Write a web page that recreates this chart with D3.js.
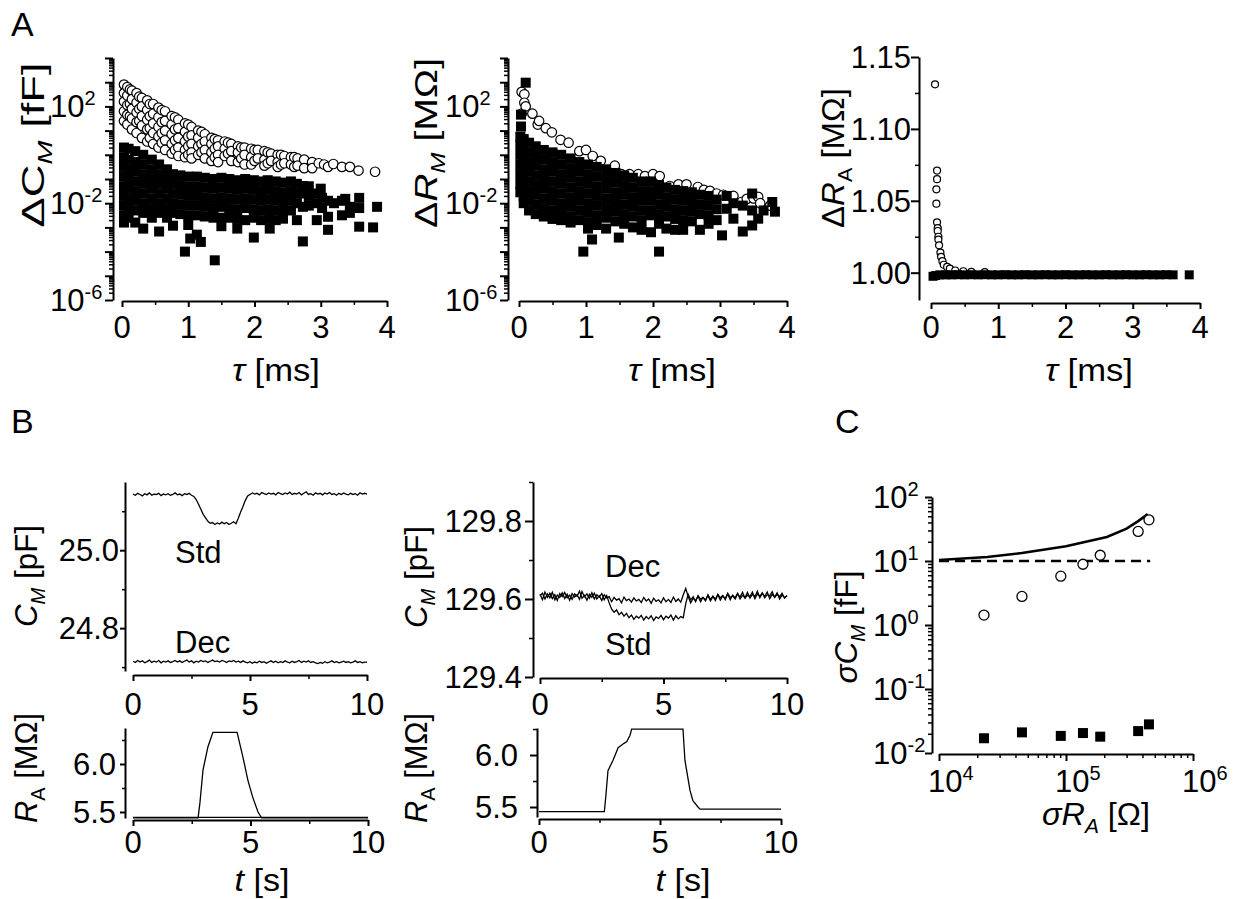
<!DOCTYPE html>
<html>
<head>
<meta charset="utf-8">
<style>
body { margin: 0; background: #fff; }
svg text { font-family: "Liberation Sans", Arial, sans-serif; fill: #000; }
.axis path, .axis line { stroke: #000; stroke-width: 2; }
.axis .minor line { stroke-width: 1.5; }
.trace { fill: none; stroke: #000; stroke-width: 1.3; }
</style>
</head>
<body>
<svg width="1245" height="899"></svg>
<script src="https://cdn.jsdelivr.net/npm/d3@7"></script>
<script>

// ---------- data ----------
// A: tau [ms] with log10 of the deviation, grouped by tau column
var cmOpen = [
  [0.03, [2.9, 2.55, 2.2, 1.8, 1.4]], [0.08, [2.8, 2.45, 2.05, 1.65, 1.25]],
  [0.12, [2.7, 2.1, 1.6]], [0.15, [2.65, 2.3, 1.9, 1.5, 1.05]],
  [0.22, [2.55, 2.15, 1.75, 1.35, 0.9]], [0.26, [2.4, 1.9, 1.4]],
  [0.3, [2.35, 2.0, 1.6, 1.2, 0.7]], [0.38, [2.25, 1.85, 1.45, 1.05, 0.55]],
  [0.42, [2.1, 1.6, 1.1, 0.7]], [0.47, [2.1, 1.7, 1.3, 0.9, 0.45]],
  [0.55, [1.95, 1.55, 1.15, 0.75, 0.3]], [0.6, [1.85, 1.35, 0.9, 0.5]],
  [0.65, [1.8, 1.4, 1.0, 0.6, 0.2]], [0.75, [1.6, 1.25, 0.85, 0.45, 0.05]],
  [0.8, [1.55, 1.05, 0.6, 0.2]], [0.85, [1.45, 1.1, 0.7, 0.3, -0.05]],
  [0.95, [1.3, 0.95, 0.55, 0.2, -0.1]], [1.0, [1.25, 0.75, 0.35, 0.0]],
  [1.05, [1.15, 0.8, 0.45, 0.1, -0.15]], [1.15, [1.0, 0.7, 0.35, 0.0]],
  [1.2, [0.95, 0.45, 0.1]], [1.25, [0.85, 0.55, 0.2, -0.15]],
  [1.35, [0.7, 0.45, 0.1, -0.25]], [1.4, [0.65, 0.25, -0.1]],
  [1.45, [0.6, 0.35, 0.0, -0.3]], [1.55, [0.55, 0.25, -0.05]],
  [1.6, [0.5, 0.05]], [1.65, [0.45, 0.15, -0.25]], [1.75, [0.35, 0.1, -0.3]],
  [1.8, [0.3, -0.15]], [1.85, [0.3, 0.0, -0.4]], [1.95, [0.25, -0.1, -0.4]],
  [2.0, [0.2, -0.25]], [2.05, [0.2, -0.15]], [2.15, [0.15, -0.2, -0.45]],
  [2.2, [0.1, -0.35]], [2.25, [0.05, -0.25]], [2.35, [0.0, -0.3, -0.5]],
  [2.4, [0.0, -0.4]], [2.45, [-0.05, -0.35]], [2.55, [-0.1, -0.4]],
  [2.6, [-0.1, -0.5]], [2.65, [-0.15, -0.45]], [2.75, [-0.2, -0.55]],
  [2.87, [-0.3, -0.55]], [2.97, [-0.35]], [3.05, [-0.4]],
  [3.11, [-0.5]], [3.19, [-0.38]], [3.32, [-0.5]], [3.44, [-0.5]],
  [3.57, [-0.65]], [3.82, [-0.7]]
];
var cmFilled = [
  [0.03, [0.3, -0.1, -0.5, -0.9, -1.3, -1.7, -2.1, -2.5, -2.8]],
  [0.1, [0.25, -0.2, -0.6, -1.0, -1.4, -1.8, -2.2, -2.6]],
  [0.2, [0.15, -0.3, -0.7, -1.1, -1.5, -1.9, -2.3, -2.8]],
  [0.32, [0.0, -0.4, -0.8, -1.2, -1.6, -2.0, -2.4, -3.05]],
  [0.45, [-0.2, -0.6, -1.0, -1.4, -1.8, -2.2, -2.6]],
  [0.56, [-0.4, -0.8, -1.2, -1.6, -2.0, -2.4, -3.17]],
  [0.68, [-0.6, -1.0, -1.4, -1.8, -2.2, -2.6]],
  [0.77, [-0.8, -1.2, -1.6, -2.0, -2.4, -2.93]],
  [0.88, [-0.85, -1.25, -1.65, -2.05, -2.45]],
  [0.95, [-4.0]], [1.0, [-0.9, -1.3, -1.7, -2.1, -2.5, -2.9]],
  [1.03, [-3.46]], [1.13, [-0.9, -1.3, -1.7, -2.1, -2.5, -3.3]],
  [1.19, [-3.6]], [1.25, [-0.95, -1.35, -1.75, -2.15, -2.55]],
  [1.4, [-4.36]], [1.38, [-1.0, -1.4, -1.8, -2.2, -2.6]],
  [1.5, [-0.95, -1.35, -1.75, -2.15, -2.6, -2.95]],
  [1.62, [-1.0, -1.4, -1.8, -2.2, -2.6]],
  [1.74, [-1.05, -1.45, -1.85, -2.25, -2.65, -3.05]],
  [1.86, [-1.0, -1.4, -1.8, -2.2, -2.7]],
  [1.99, [-1.05, -1.45, -1.85, -2.25, -2.6, -3.42]],
  [2.1, [-1.1, -1.5, -1.9, -2.3, -2.7]],
  [2.2, [-1.05, -1.45, -1.85, -2.25]], [2.23, [-2.65, -3.05]],
  [2.32, [-1.1, -1.5, -1.9, -2.3, -2.7]],
  [2.43, [-1.15, -1.55, -1.95, -2.35, -2.64]],
  [2.55, [-1.1, -1.5, -1.9, -2.3]], [2.64, [-1.2, -1.6, -2.0, -2.7]],
  [2.73, [-1.29, -1.6, -2.15, -3.58]], [2.82, [-1.3, -1.7, -2.1]],
  [2.94, [-1.6, -2.0, -2.7]], [3.0, [-1.4]], [3.02, [-1.78, -2.2]],
  [3.11, [-1.9, -2.56, -3.1]], [3.2, [-2.0]], [3.32, [-1.9, -2.5]],
  [3.37, [-1.82]], [3.44, [-2.15, -2.4]], [3.58, [-1.78, -2.2, -2.97]],
  [3.79, [-3.0]], [3.85, [-2.15]]
];
var rmOpen = [
  [0.04, [2.6, 1.7]], [0.08, [2.5, 2.15]], [0.1, [2.0]], [0.2, [1.7]],
  [0.28, [1.25]], [0.3, [1.4]], [0.4, [1.1]], [0.49, [0.93]], [0.62, [0.62]],
  [0.74, [0.5]], [0.9, [0.15]], [1.0, [0.2]], [1.1, [-0.05]], [1.22, [-0.25]],
  [1.43, [-0.45]], [1.53, [-0.8]], [1.65, [-0.8]], [1.78, [-0.8]], [1.88, [-0.88]],
  [2.0, [-0.8]], [2.1, [-0.88]], [2.25, [-1.29]], [2.38, [-1.22]], [2.5, [-1.22]],
  [2.67, [-1.33]], [2.76, [-1.45]], [2.85, [-1.49]], [2.95, [-1.6]], [3.05, [-1.65]],
  [3.2, [-1.7]], [3.32, [-1.95]], [3.4, [-1.82]], [3.5, [-1.8]], [3.57, [-1.74]],
  [3.6, [-2.0]], [3.75, [-2.1]]
];
var rmFilled = [
  [0.1, [2.98]], [0.03, [1.66, 1.17]],
  [0.02, [0.75, 0.4, 0.0, -0.4, -0.8, -1.2, -1.55]],
  [0.07, [0.65, 0.3, -0.1, -0.5, -0.9, -1.3, -1.7, -2.0]],
  [0.15, [0.5, 0.1, -0.3, -0.7, -1.1, -1.5, -1.9, -2.3]],
  [0.25, [0.35, -0.05, -0.45, -0.85, -1.25, -1.65, -2.05, -2.45]],
  [0.37, [0.2, -0.2, -0.6, -1.0, -1.4, -1.8, -2.2, -2.55]],
  [0.5, [0.1, -0.3, -0.7, -1.1, -1.5, -1.9, -2.3, -2.65]],
  [0.63, [0.0, -0.4, -0.8, -1.2, -1.6, -2.0, -2.4, -2.7]],
  [0.77, [-0.15, -0.55, -0.95, -1.35, -1.75, -2.15, -2.55, -2.8]],
  [0.9, [-0.3, -0.7, -1.1, -1.5, -1.9, -2.3, -2.7]],
  [0.96, [-4.0]], [1.03, [-0.4, -0.8, -1.2, -1.6, -2.0, -2.4, -2.8, -3.05]],
  [1.09, [-3.5]], [1.16, [-0.5, -0.9, -1.3, -1.7, -2.1, -2.5, -2.9]],
  [1.3, [-0.6, -1.0, -1.4, -1.8, -2.2, -2.6, -3.05]],
  [1.44, [-0.75, -1.15, -1.55, -1.95, -2.35, -2.75]], [1.49, [-3.42]],
  [1.57, [-0.85, -1.25, -1.65, -2.05, -2.45, -2.85]],
  [1.7, [-0.95, -1.35, -1.75, -2.15, -2.55, -3.0]],
  [1.83, [-1.1, -1.5, -1.9, -2.3, -2.7, -3.1]],
  [1.97, [-1.1, -1.5, -1.9, -2.3, -2.5, -3.2]],
  [2.09, [-1.25, -1.65, -2.05, -2.45, -2.85, -4.0]],
  [2.2, [-1.35, -1.75, -2.15, -2.55, -3.05]],
  [2.33, [-1.45, -1.85, -2.25, -2.65, -3.1]],
  [2.45, [-1.5, -1.9, -2.3, -2.7, -3.1]],
  [2.58, [-1.55, -1.95, -2.35, -2.75]], [2.7, [-1.65, -2.05, -2.45, -3.1]],
  [2.83, [-1.7, -2.1, -2.5, -2.85]], [2.95, [-1.85, -2.25, -2.7]],
  [3.03, [-3.33]], [3.1, [-1.7, -2.23]], [3.2, [-2.0, -2.64]],
  [3.34, [-2.1, -3.17]], [3.48, [-1.6, -2.3, -2.92]], [3.57, [-2.64]],
  [3.65, [-2.3]], [3.78, [-1.95]], [3.82, [-2.35]]
];
// A, right: tau [ms], delta R_A [MOhm]
var raOpen = [
  [0.06, 1.131], [0.09, 1.071], [0.09, 1.065], [0.08, 1.058], [0.08, 1.048],
  [0.09, 1.035], [0.1, 1.031], [0.1, 1.029], [0.11, 1.025], [0.11, 1.023],
  [0.12, 1.019], [0.14, 1.014], [0.15, 1.011], [0.17, 1.008], [0.19, 1.0055],
  [0.24, 1.004], [0.28, 1.0028], [0.36, 1.0015], [0.48, 1.001], [0.6, 1.0006],
  [0.8, 1.0004]
];
var raFilled = [
  [0.03, 0.9975], [0.07, 0.998], [0.13, 0.9985], [0.22, 0.9985], [0.31, 0.9985],
  [0.4, 0.9986], [0.5, 0.9985], [0.6, 0.9986], [0.7, 0.9985], [0.8, 0.9986],
  [0.9, 0.9985], [1.0, 0.9985], [1.1, 0.9986], [1.2, 0.9985], [1.3, 0.9985],
  [1.4, 0.9986], [1.5, 0.9985], [1.6, 0.9985], [1.7, 0.9986], [1.8, 0.9985],
  [1.9, 0.9985], [2.0, 0.9986], [2.1, 0.9985], [2.2, 0.9985], [2.3, 0.9986],
  [2.4, 0.9985], [2.5, 0.9985], [2.6, 0.9986], [2.7, 0.9985], [2.8, 0.9985],
  [2.9, 0.9986], [3.0, 0.9985], [3.1, 0.9985], [3.2, 0.9986], [3.3, 0.9985],
  [3.4, 0.9985], [3.5, 0.9986], [3.6, 0.9985], [3.84, 0.9985]
];

// B: traces sampled every 0.1 s from 0 to 10 s
var tSample = d3.range(101).map(function(i) { return i / 10; });
var cmStdL = [
  25.144,25.141,25.146,25.143,25.139,25.145,25.142,25.147,25.141,25.144,
  25.143,25.146,25.140,25.144,25.142,25.145,25.141,25.143,25.147,25.142,
  25.144,25.140,25.145,25.143,25.146,25.141,25.138,25.130,25.118,25.105,
  25.092,25.083,25.074,25.069,25.071,25.066,25.070,25.067,25.072,25.068,
  25.071,25.066,25.069,25.073,25.068,25.082,25.098,25.112,25.128,25.139,
  25.143,25.147,25.144,25.146,25.142,25.148,25.145,25.143,25.147,25.144,
  25.146,25.142,25.148,25.145,25.143,25.147,25.144,25.149,25.143,25.146,
  25.144,25.148,25.142,25.146,25.150,25.143,25.145,25.141,25.147,25.144,
  25.146,25.142,25.147,25.144,25.148,25.143,25.145,25.141,25.146,25.143,
  25.147,25.144,25.142,25.146,25.143,25.145,25.141,25.147,25.144,25.146,
  25.144
];
var cmDecL = [
  24.715,24.712,24.717,24.713,24.716,24.711,24.714,24.718,24.712,24.715,
  24.713,24.717,24.711,24.715,24.713,24.716,24.712,24.714,24.717,24.713,
  24.716,24.712,24.715,24.718,24.713,24.716,24.711,24.715,24.713,24.717,
  24.714,24.716,24.712,24.715,24.718,24.714,24.716,24.713,24.717,24.715,
  24.712,24.716,24.714,24.717,24.713,24.715,24.712,24.716,24.713,24.711,
  24.714,24.710,24.713,24.711,24.715,24.712,24.714,24.710,24.713,24.716,
  24.712,24.715,24.711,24.714,24.712,24.716,24.713,24.711,24.715,24.712,
  24.714,24.717,24.712,24.715,24.713,24.716,24.712,24.714,24.711,24.709,
  24.712,24.710,24.714,24.711,24.713,24.716,24.712,24.714,24.711,24.713,
  24.715,24.712,24.714,24.711,24.713,24.716,24.712,24.714,24.711,24.713,
  24.713
];
var cmDecR = [
  129.612,129.598,129.618,129.604,129.615,129.601,129.611,129.596,129.614,129.606,
  129.617,129.603,129.610,129.599,129.613,129.607,129.620,129.602,129.609,129.597,
  129.612,129.604,129.615,129.600,129.608,129.596,129.611,129.603,129.606,129.593,
  129.604,129.597,129.601,129.590,129.605,129.596,129.600,129.592,129.603,129.595,
  129.599,129.591,129.604,129.595,129.600,129.589,129.602,129.594,129.598,129.590,
  129.603,129.593,129.599,129.591,129.605,129.594,129.600,129.592,129.611,129.627,
  129.606,129.590,129.602,129.596,129.607,129.593,129.604,129.598,129.609,129.595,
  129.606,129.600,129.611,129.597,129.608,129.601,129.613,129.598,129.610,129.603,
  129.615,129.600,129.609,129.604,129.617,129.602,129.612,129.606,129.620,129.603,
  129.614,129.607,129.618,129.601,129.612,129.605,129.616,129.600,129.610,129.604,
  129.608
];
var cmStdR = [
  129.608,129.615,129.600,129.613,129.603,129.617,129.598,129.610,129.604,129.616,
  129.601,129.612,129.597,129.614,129.605,129.611,129.599,129.619,129.606,129.613,
  129.602,129.616,129.600,129.611,129.605,129.614,129.598,129.609,129.590,129.574,
  129.566,129.572,129.560,129.566,129.556,129.563,129.552,129.559,129.548,129.556,
  129.551,129.558,129.546,129.555,129.549,129.557,129.545,129.554,129.550,129.558,
  129.547,129.556,129.551,129.559,129.546,129.557,129.549,129.555,129.552,129.588,
  129.612,129.598,129.606,129.593,129.609,129.600,129.604,129.595,129.611,129.599,
  129.607,129.596,129.612,129.603,129.609,129.598,129.615,129.604,129.608,129.600,
  129.613,129.605,129.617,129.602,129.610,129.606,129.618,129.601,129.613,129.607,
  129.616,129.603,129.611,129.608,129.619,129.604,129.612,129.606,129.615,129.602,
  129.609
];
// B: R_A traces [t s, MOhm]
var raL = [[0, 5.44], [2.77, 5.44], [2.85, 5.6], [2.98, 5.94], [3.19, 6.18], [3.4, 6.33],
  [4.43, 6.33], [4.68, 6.07], [4.89, 5.83], [5.1, 5.65], [5.32, 5.5], [5.47, 5.44], [10, 5.44]];
var raLBase = [[0, 5.445], [10, 5.445]];
var raR = [[0, 5.455], [2.7, 5.455], [2.76, 5.6], [2.85, 5.85], [3.06, 5.95], [3.27, 6.07],
  [3.5, 6.11], [3.63, 6.13], [3.76, 6.19], [3.83, 6.25], [5.95, 6.25], [6.03, 5.95],
  [6.24, 5.66], [6.36, 5.56], [6.57, 5.5], [6.65, 5.48], [10, 5.48]];

// C: sigma R_A [Ohm] vs sigma C_M [fF]
var sRA = [2.26e4, 4.5e4, 9.1e4, 1.36e5, 1.86e5, 3.7e5, 4.5e5];
var sCMopen = [1.43, 2.8, 5.8, 8.9, 12.3, 29, 44];
var sCMfilled = [0.017, 0.021, 0.0185, 0.0205, 0.018, 0.022, 0.028];
var solidLine = [[1e4, 10.4], [2.4e4, 11.5], [4.5e4, 13.3], [1e5, 17], [2.1e5, 23.7],
  [3.0e5, 32], [3.7e5, 42], [4.4e5, 54]];
var dashedLine = [[1e4, 10], [4.6e5, 10]];

// ---------- drawing ----------
var svg = d3.select("svg");

function logTicks(lo, hi) {
  var major = [], minor = [];
  for (var e = lo; e <= hi; e++) {
    major.push(Math.pow(10, e));
    if (e < hi) for (var k = 2; k <= 9; k++) minor.push(k * Math.pow(10, e));
  }
  return {major: major, minor: minor};
}

function axis(orient, scale, at, major, minor, bigLen, smallLen) {
  var mk = orient === "left" ? d3.axisLeft : d3.axisBottom;
  var g = svg.append("g").attr("class", "axis")
      .attr("transform", orient === "left" ? "translate(" + at + ",0)" : "translate(0," + at + ")");
  g.call(mk(scale).tickValues(major).tickSize(bigLen).tickSizeOuter(0).tickFormat(""));
  g.append("g").attr("class", "minor")
      .call(mk(scale).tickValues(minor).tickSize(smallLen).tickSizeOuter(0).tickFormat(""))
    .select(".domain").remove();
  return g;
}

// text with italic / subscript / superscript pieces
function rich(x, y, parts, anchor, rot, size, len) {
  size = size || 31;
  var t = svg.append("text")
      .attr("transform", "translate(" + x + "," + y + ")" + (rot ? " rotate(" + rot + ")" : ""))
      .attr("text-anchor", anchor || "start")
      .attr("font-size", size);
  if (len) t.attr("textLength", len).attr("lengthAdjust", "spacingAndGlyphs");
  var shift = 0;
  parts.forEach(function(p) {
    if (typeof p === "string") p = {t: p};
    var s = t.append("tspan").text(p.t);
    var want = p.sub ? 8 : p.sup ? -12 : 0;
    if (want !== shift) { s.attr("dy", want - shift); shift = want; }
    if (p.sub || p.sup) s.attr("font-size", Math.round(size * 0.64));
    if (p.it) s.attr("font-style", "italic");
  });
  return t;
}

function powLabel(x, y, exp, anchor) {
  return rich(x, y, ["10", {t: String(exp), sup: true}], anchor);
}

function scatter(pts, x, y, shape, size, sw) {
  var g = svg.append("g");
  if (shape === "circle") {
    g.selectAll("circle").data(pts).enter().append("circle")
      .attr("cx", function(d) { return x(d[0]); })
      .attr("cy", function(d) { return y(d[1]); })
      .attr("r", size / 2)
      .attr("fill", "#fff").attr("stroke", "#000").attr("stroke-width", sw || 1.2);
  } else {
    g.selectAll("rect").data(pts).enter().append("rect")
      .attr("x", function(d) { return x(d[0]) - size / 2; })
      .attr("y", function(d) { return y(d[1]) - size / 2; })
      .attr("width", size).attr("height", size)
      .attr("fill", "#000");
  }
}

function expand(cols) {
  var out = [];
  cols.forEach(function(c) { c[1].forEach(function(e) { out.push([c[0], Math.pow(10, e)]); }); });
  return out;
}

function trace(xs, ys, x, y) {
  var pts = xs.map(function(t, i) { return [t, ys[i]]; });
  tracePts(pts, x, y);
}
function tracePts(pts, x, y) {
  svg.append("path").attr("class", "trace")
    .attr("d", d3.line().x(function(d) { return x(d[0]); }).y(function(d) { return y(d[1]); })(pts));
}

var tauMajor = [0, 1, 2, 3, 4], tauMinor = [0.5, 1.5, 2.5, 3.5];
var decA = logTicks(-6, 4);
var tauTitle = [{t: "\u03c4", it: true}, " [ms]"];

// ----- A, left: delta C_M -----
var xA1 = d3.scaleLinear().domain([0, 4]).range([122, 387]);
var yA1 = d3.scaleLog().domain([1e-6, 1e4]).range([300, 58]);
scatter(expand(cmOpen), xA1, yA1, "circle", 9.5);
scatter(expand(cmFilled), xA1, yA1, "rect", 10);
axis("left", yA1, 113, decA.major, decA.minor, 8, 4);
axis("bottom", xA1, 301, tauMajor, tauMinor, 6, 4);
[-6, -2, 2].forEach(function(e) { powLabel(50, yA1(Math.pow(10, e)) + 11, e); });
tauMajor.forEach(function(v) { rich(xA1(v), 338, [String(v)], "middle"); });
rich(44, 145, ["\u0394C", {t: "M", sub: true, it: true}, " [fF]"], "middle", -90, 31, 165);
rich(276, 381, tauTitle, "middle", 0, 31, 88);

// ----- A, middle: delta R_M -----
var xA2 = d3.scaleLinear().domain([0, 4]).range([519, 787]);
var yA2 = d3.scaleLog().domain([1e-6, 1e4]).range([300, 58]);
scatter(expand(rmOpen), xA2, yA2, "circle", 9.5);
scatter(expand(rmFilled), xA2, yA2, "rect", 10);
axis("left", yA2, 508, decA.major, decA.minor, 8, 4);
axis("bottom", xA2, 301, tauMajor, tauMinor, 6, 4);
[-6, -2, 2].forEach(function(e) { powLabel(445, yA2(Math.pow(10, e)) + 11, e); });
tauMajor.forEach(function(v) { rich(xA2(v), 338, [String(v)], "middle"); });
rich(437, 143, ["\u0394", {t: "R", it: true}, {t: "M", sub: true, it: true}, " [M\u03a9]"], "middle", -90, 31, 170);
rich(672, 381, tauTitle, "middle", 0, 31, 88);

// ----- A, right: delta R_A -----
var xA3 = d3.scaleLinear().domain([0, 4]).range([931, 1200]);
var yA3 = d3.scaleLinear().domain([0.981, 1.15]).range([300, 57]);
scatter(raOpen, xA3, yA3, "circle", 7);
scatter(raFilled, xA3, yA3, "rect", 9);
axis("left", yA3, 919, [1.0, 1.05, 1.1, 1.15], [1.025, 1.075, 1.125], 8, 4);
axis("bottom", xA3, 303, tauMajor, tauMinor, 6, 4);
[1.0, 1.05, 1.1, 1.15].forEach(function(v) { rich(911, yA3(v) + 11, [d3.format(".2f")(v)], "end"); });
tauMajor.forEach(function(v) { rich(xA3(v), 338, [String(v)], "middle"); });
rich(844, 158, ["\u0394", {t: "R", it: true}, {t: "A", sub: true}, " [M\u03a9]"], "middle", -90, 31, 140);
rich(1089, 381, tauTitle, "middle", 0, 31, 88);

// ----- B, left -----
var xB1 = d3.scaleLinear().domain([0, 10]).range([133, 367]);
var yB1 = d3.scaleLinear().domain([24.69, 25.175]).range([671, 482]);
trace(tSample, cmStdL, xB1, yB1);
trace(tSample, cmDecL, xB1, yB1);
axis("left", yB1, 125, [24.8, 25.0], [24.7, 24.9, 25.1], 5, 3);
axis("bottom", xB1, 675, [0, 5, 10], [2.5, 7.5], 6, 4);
[24.8, 25.0].forEach(function(v) { rich(119, yB1(v) + 11, [d3.format(".1f")(v)], "end"); });
[0, 5, 10].forEach(function(v) { rich(xB1(v), 715, [String(v)], "middle"); });
rich(175, 563, ["Std"]);
rich(175, 653, ["Dec"]);
rich(37, 576, [{t: "C", it: true}, {t: "M", sub: true, it: true}, " [pF]"], "middle", -90, 31, 102);

var xB2 = d3.scaleLinear().domain([0, 10]).range([133, 368]);
var yB2 = d3.scaleLinear().domain([5.4375, 6.375]).range([818, 728]);
tracePts(raLBase, xB2, yB2);
tracePts(raL, xB2, yB2);
axis("left", yB2, 125, [5.5, 6.0], [5.75, 6.25], 5, 3);
axis("bottom", xB2, 820, [0, 5, 10], [2.5, 7.5], 6, 4);
[5.5, 6.0].forEach(function(v) { rich(116, yB2(v) + 11, [d3.format(".1f")(v)], "end"); });
[0, 5, 10].forEach(function(v) { rich(xB2(v), 853, [String(v)], "middle"); });
rich(37, 768, [{t: "R", it: true}, {t: "A", sub: true}, " [M\u03a9]"], "middle", -90, 31, 110);
rich(262, 891, [{t: "t", it: true}, " [s]"], "middle", 0, 31, 55);

// ----- B, right -----
var xB3 = d3.scaleLinear().domain([0, 10]).range([540, 787]);
var yB3 = d3.scaleLinear().domain([129.4, 129.9]).range([677, 482]);
trace(tSample, cmDecR, xB3, yB3);
trace(tSample, cmStdR, xB3, yB3);
axis("left", yB3, 533, [129.4, 129.6, 129.8], [129.5, 129.7, 129.9], 8, 4);
axis("bottom", xB3, 678, [0, 5, 10], [2.5, 7.5], 6, 4);
[129.4, 129.6, 129.8].forEach(function(v) { rich(522, yB3(v) + 11, [d3.format(".1f")(v)], "end"); });
[0, 5, 10].forEach(function(v) { rich(xB3(v), 715, [String(v)], "middle"); });
rich(605, 577, ["Dec"]);
rich(605, 655, ["Std"]);
rich(427, 577, [{t: "C", it: true}, {t: "M", sub: true, it: true}, " [pF]"], "middle", -90, 31, 102);

var xB4 = d3.scaleLinear().domain([0, 10]).range([539, 781]);
var yB4 = d3.scaleLinear().domain([5.404, 6.26]).range([817, 728]);
tracePts(raR, xB4, yB4);
axis("left", yB4, 537, [5.5, 6.0], [5.75, 6.25], 7, 4);
axis("bottom", xB4, 819, [0, 5, 10], [2.5, 7.5], 6, 4);
[5.5, 6.0].forEach(function(v) { rich(518, yB4(v) + 11, [d3.format(".1f")(v)], "end"); });
[0, 5, 10].forEach(function(v) { rich(xB4(v), 853, [String(v)], "middle"); });
rich(427, 768, [{t: "R", it: true}, {t: "A", sub: true}, " [M\u03a9]"], "middle", -90, 31, 110);
rich(683, 891, [{t: "t", it: true}, " [s]"], "middle", 0, 31, 55);

// ----- C -----
var xC = d3.scaleLog().domain([1e4, 1e6]).range([939, 1193]);
var yC = d3.scaleLog().domain([1e-2, 1e2]).range([753, 497]);
var lineC = d3.line().x(function(d) { return xC(d[0]); }).y(function(d) { return yC(d[1]); });
svg.append("path").attr("d", lineC(solidLine)).attr("fill", "none").attr("stroke", "#000").attr("stroke-width", 2.5);
svg.append("path").attr("d", lineC(dashedLine)).attr("fill", "none").attr("stroke", "#000")
  .attr("stroke-width", 2.5).attr("stroke-dasharray", "10,6");
scatter(sRA.map(function(v, i) { return [v, sCMopen[i]]; }), xC, yC, "circle", 10, 1.3);
scatter(sRA.map(function(v, i) { return [v, sCMfilled[i]]; }), xC, yC, "rect", 10);
var decCy = logTicks(-2, 2), decCx = logTicks(4, 6);
axis("left", yC, 932, decCy.major, decCy.minor, 7, 4);
axis("bottom", xC, 754, decCx.major, decCx.minor, 7, 4);
[-2, -1, 0, 1, 2].forEach(function(e) { powLabel(873, yC(Math.pow(10, e)) + 11, e); });
[4, 5, 6].forEach(function(e) { powLabel(xC(Math.pow(10, e)) - 11, 792, e); });
rich(857, 627, [{t: "\u03c3", it: true}, {t: "C", it: true}, {t: "M", sub: true, it: true}, " [fF]"], "middle", -90, 31, 113);
rich(1096, 825, [{t: "\u03c3", it: true}, {t: "R", it: true}, {t: "A", sub: true, it: true}, " [\u03a9]"], "middle", 0, 31, 108);

// panel letters
rich(11, 36, ["A"], "start", 0, 34);
rich(11, 433, ["B"], "start", 0, 34);
rich(835, 433, ["C"], "start", 0, 34);

</script>
</body>
</html>
